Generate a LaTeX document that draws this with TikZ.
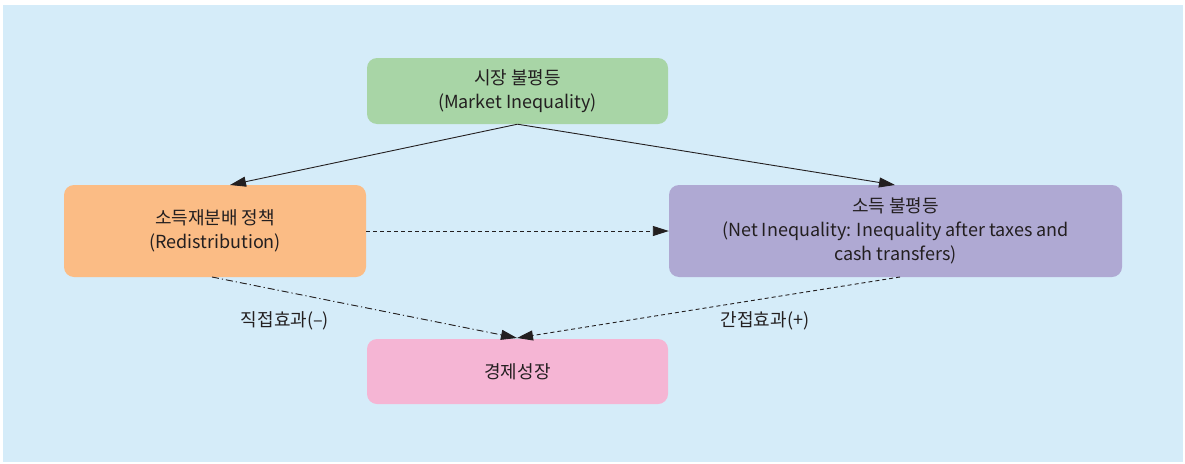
\documentclass[tikz,border=0pt]{standalone}
\usepackage{fontspec}
\setmainfont{Noto Sans CJK KR}
\usetikzlibrary{arrows.meta}
\definecolor{bgblue}{HTML}{D5ECF9}
\definecolor{boxgreen}{HTML}{A8D5A6}
\definecolor{boxorange}{HTML}{FBBC85}
\definecolor{boxpurple}{HTML}{AFA9D3}
\definecolor{boxpink}{HTML}{F5B5D4}
\definecolor{txt}{HTML}{231F20}
\tikzset{
  box/.style={rectangle, rounded corners=10pt, inner sep=0pt, align=center,
    text=txt, font=\fontsize{18}{24}\selectfont},
  conn/.style={draw=txt, line width=0.9pt, -{Triangle[length=16pt,width=10pt]}},
  lbl/.style={text=txt, font=\fontsize{18}{24}\selectfont, inner sep=0pt},
  dashline/.style={dash pattern=on 4pt off 3pt},
  dashdotline/.style={dash pattern=on 7pt off 3pt on 1.2pt off 3pt},
}
\begin{document}
\begin{tikzpicture}[x=1pt,y=-1pt]
\useasboundingbox (0,0) rectangle (1185,463);
\fill[bgblue] (3,5) rectangle (1183,462);
\node[box, fill=boxgreen, minimum width=301pt, minimum height=66pt] (market) at (517.5,91) {시장 불평등\\(Market Inequality)};
\node[box, fill=boxorange, minimum width=302pt, minimum height=92pt] (redis) at (215,231) {소득재분배 정책\\(Redistribution)};
\node[box, fill=boxpurple, minimum width=453pt, minimum height=92pt] (net) at (895.5,231) {소득 불평등\\(Net Inequality: Inequality after taxes and\\cash transfers)};
\node[box, fill=boxpink, minimum width=301pt, minimum height=65pt] (growth) at (517.5,371.5) {경제성장};
\coordinate (meet) at (517,338);
\draw[conn] (market.south) -- (230,185);
\draw[conn] (market.south) -- (895,185);
\draw[conn, dashline] (redis.east) -- (net.west);
\draw[conn, dashdotline] (212,277) -- (meet);
\draw[conn, dashline] (900,277) -- (meet);
\node[lbl] (direct) at (285,321) {직접효과(–)};
\node[lbl] (indirect) at (765,321) {간접효과(+)};
\end{tikzpicture}
\end{document}
